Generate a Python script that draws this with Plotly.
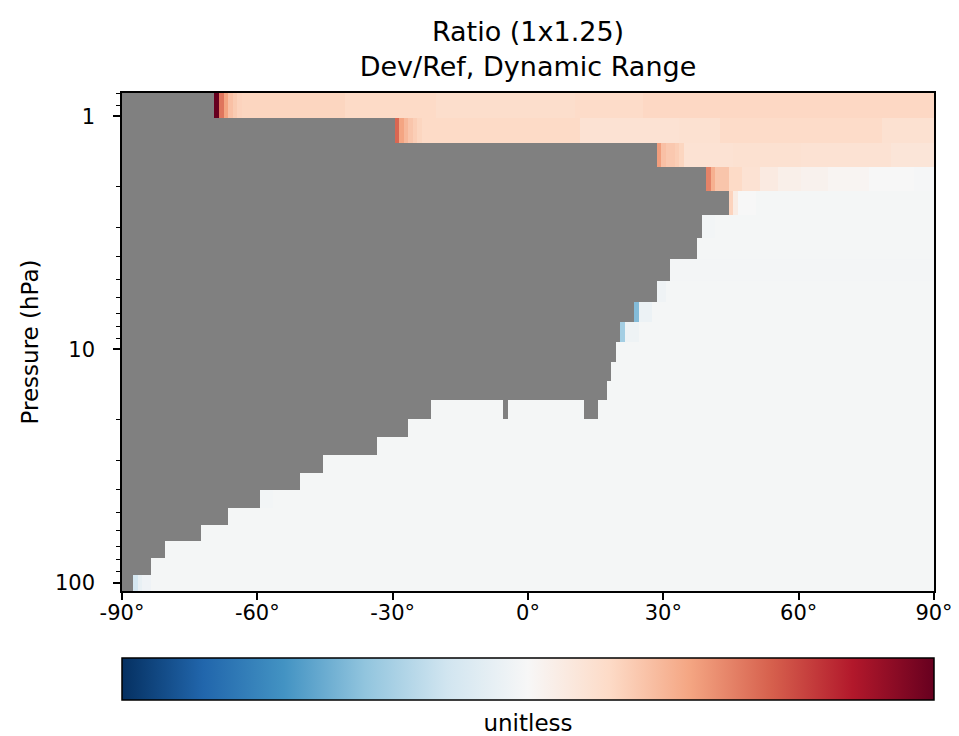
import numpy as np
import plotly.graph_objects as go

# Pressure level edges (hPa), top to bottom
p_edges = [0.7951, 1.0194, 1.3019, 1.6546, 2.0957, 2.6481, 3.3433, 4.1098, 5.0770,
           6.2406, 7.6340, 9.2929, 11.2769, 13.6434, 16.4571, 19.7916, 23.7311,
           28.3678, 33.8100, 40.1754, 47.6439, 56.3879, 66.6038, 78.5123, 92.3657, 108.663]

# Latitude edges of the 1x1.25 grid (half-size polar cells)
lat_edges = np.concatenate([[-90.0], np.arange(-89.5, 89.6, 1.0), [90.0]])

# Each row: (start latitude, ratio value) segments; cells west of the first segment are masked.
row_00 = [(-69.5, 1.50), (-68.5, 1.27), (-67.5, 1.20), (-66.5, 1.15), (-65.5, 1.13), (-64.5, 1.115),
          (-63.5, 1.11), (-40.5, 1.10), (-20.5, 1.09), (10.5, 1.095), (25.5, 1.105), (50.5, 1.105)]
row_01 = [(-29.5, 1.29), (-28.5, 1.20), (-27.5, 1.165), (-26.5, 1.14), (-25.5, 1.125), (-24.5, 1.11),
          (-23.5, 1.10), (11.5, 1.075), (33.5, 1.08), (42.5, 1.095), (78.5, 1.08)]
row_02 = [(28.5, 1.21), (29.5, 1.15), (30.5, 1.135), (32.5, 1.125), (33.5, 1.11), (34.5, 1.075),
          (45.5, 1.08), (60.5, 1.075), (80.5, 1.065)]
row_03 = [(39.5, 1.25), (40.5, 1.18), (41.5, 1.14), (44.5, 1.10), (47.5, 1.075), (51.5, 1.045),
          (55.5, 1.03), (60.5, 1.02), (66.5, 1.01), (75.5, 1.0), (85.5, 0.995)]
row_04 = [(44.5, 1.115), (45.5, 1.04), (46.5, 1.0), (50.5, 0.992)]
row_05 = [(38.5, 0.988), (41.5, 0.992)]
row_06 = [(37.5, 0.992)]
row_07 = [(31.5, 0.99)]
row_08 = [(28.5, 0.978), (30.5, 0.992)]
row_09 = [(23.5, 0.782), (24.5, 0.97), (27.5, 0.992)]
row_10 = [(20.5, 0.827), (21.5, 0.975), (24.5, 0.992)]
row_11 = [(19.5, 0.992)]
row_12 = [(18.5, 0.992)]
row_13 = [(17.5, 0.992)]
row_14 = [(-21.5, 0.992), (-5.5, None), (-4.5, 0.992), (12.5, None), (15.5, 0.992)]
row_15 = [(-26.5, 0.992)]
row_16 = [(-33.5, 0.992)]
row_17 = [(-45.5, 0.992)]
row_18 = [(-50.5, 0.992)]
row_19 = [(-59.5, 0.988), (-56.5, 0.992)]
row_20 = [(-66.5, 0.992)]
row_21 = [(-72.5, 0.992)]
row_22 = [(-80.5, 0.992)]
row_23 = [(-83.5, 0.992)]
row_24 = [(-87.5, 0.91), (-86.5, 0.96), (-85.5, 0.98), (-83.5, 0.992)]

rows = [row_00, row_01, row_02, row_03, row_04, row_05, row_06, row_07, row_08, row_09,
        row_10, row_11, row_12, row_13, row_14, row_15, row_16, row_17, row_18, row_19,
        row_20, row_21, row_22, row_23, row_24]

x_tickvals = [-90, -60, -30, 0, 30, 60, 90]
x_ticktext = ["-90°", "-60°", "-30°", "0°", "30°", "60°", "90°"]
y_tickvals = [1, 10, 100]
y_ticktext = ["1", "10", "100"]

rdbu_r = ["#053061", "#2166ac", "#4393c3", "#92c5de", "#d1e5f0", "#f7f7f7",
          "#fddbc7", "#f4a582", "#d6604d", "#b2182b", "#67001f"]
colorscale = [[i / 10, c] for i, c in enumerate(rdbu_r)]

left = lat_edges[:-1]
z = []
for segs in rows:
    r = np.full(len(left), np.nan)
    for i, lo in enumerate(left):
        val = np.nan
        for s, v in segs:
            if lo >= s - 1e-6:
                val = np.nan if v is None else v
        r[i] = val
    z.append(r)
z = np.array(z)

FONT = "DejaVu Sans"
TICK = 21

fig = go.Figure(go.Heatmap(
    x=lat_edges, y=p_edges, z=z,
    colorscale=colorscale, zmin=0.5, zmax=1.5,
    hoverongaps=False,
    colorbar=dict(
        orientation="h", x=0.5, xanchor="center", y=-0.1345, yanchor="top",
        len=1.0, lenmode="fraction", thickness=42, thicknessmode="pixels",
        xpad=0, ypad=0,
        outlinecolor="black", outlinewidth=1.5,
        ticks="", tickmode="array", tickvals=[],
        tickfont=dict(family=FONT, size=TICK, color="black"),
        title=dict(text="unitless", side="bottom", font=dict(family=FONT, size=23, color="black")),
    ),
))

# the page adds an 8px body margin, so the figure is 8px smaller and shifted
fig.update_layout(
    width=951, height=728,
    margin=dict(l=114, r=25, t=85, b=145, autoexpand=False),
    paper_bgcolor="white",
    plot_bgcolor="#808080",
    font=dict(family=FONT, size=TICK, color="black"),
    title=dict(text="Ratio (1x1.25)<br>Dev/Ref, Dynamic Range", x=0.5, xref="paper",
               xanchor="center", y=0.955, yanchor="top",
               font=dict(family=FONT, size=27, color="black")),
)
fig.update_xaxes(
    range=[-90, 90], tickmode="array", tickvals=x_tickvals, ticktext=x_ticktext,
    ticks="outside", ticklen=7, tickwidth=1.5, tickcolor="black",
    showline=True, linecolor="black", linewidth=1.5, mirror=True,
    showgrid=False, zeroline=False, tickfont=dict(size=TICK),
    ticklabelstandoff=-5,
)
fig.update_yaxes(
    type="log", range=[np.log10(p_edges[-1]), np.log10(p_edges[0])],
    tickmode="array", tickvals=y_tickvals, ticktext=y_ticktext,
    ticks="outside", ticklen=7, tickwidth=1.5, tickcolor="black",
    minor=dict(dtick="D1", ticks="outside", ticklen=4,
               tickwidth=1, tickcolor="black", showgrid=False),
    showline=True, linecolor="black", linewidth=1.5, mirror=True,
    showgrid=False, zeroline=False, tickfont=dict(size=TICK),
    ticklabelstandoff=14,
    title=dict(text="Pressure (hPa)", font=dict(size=23), standoff=10),
)

fig.write_html("out.html")
